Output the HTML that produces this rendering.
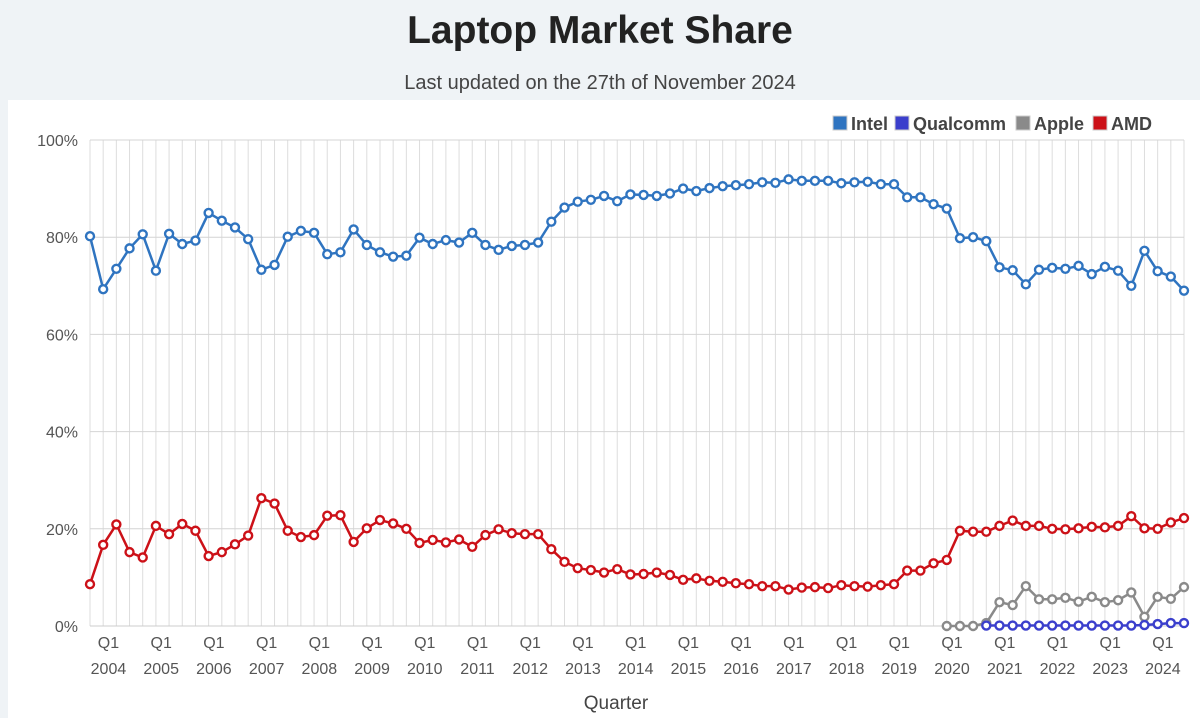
<!DOCTYPE html>
<html><head><meta charset="utf-8"><style>
html,body{margin:0;padding:0;background:#eff3f6;}
body{width:1200px;height:718px;position:relative;overflow:hidden;font-family:"Liberation Sans",sans-serif;}
#title{position:absolute;left:0;width:1200px;top:9px;text-align:center;font-size:39px;font-weight:bold;color:#222;}
#sub{position:absolute;left:0;width:1200px;top:72px;text-align:center;font-size:20px;color:#444;}
#panel{position:absolute;left:8px;top:100px;width:1192px;height:618px;background:#fff;}
svg{position:absolute;left:0;top:0;}
</style></head><body>
<div id="title">Laptop Market Share</div>
<div id="sub">Last updated on the 27th of November 2024</div>
<div id="panel"></div>
<svg id="chart" width="1200" height="718"></svg>
<script>
const startYear=2003, startQuarter=3;
const intel=[80.2,69.3,73.5,77.7,80.6,73.1,80.7,78.6,79.3,85.0,83.4,82.0,79.6,73.3,74.3,80.1,81.3,80.9,76.5,76.9,81.6,78.4,76.9,76.0,76.2,79.9,78.6,79.4,78.9,80.9,
78.4,77.4,78.2,78.4,78.9,83.2,86.1,87.3,87.7,88.5,87.4,88.8,88.7,88.5,89.0,90.0,89.5,90.1,90.5,90.7,90.9,91.3,91.2,91.9,91.6,91.6,91.6,
91.1,91.3,91.4,90.9,90.9,88.2,88.2,86.8,85.9,79.8,80.0,79.2,73.8,73.2,70.3,73.3,73.7,73.5,74.1,72.4,73.9,73.1,70.0,77.2,73.0,71.9,69.0];
const amd=[8.6,16.7,20.9,15.2,14.1,20.6,18.9,21.0,19.6,14.4,15.2,16.8,18.6,26.3,25.2,19.6,18.3,18.7,22.7,22.8,17.3,20.1,21.8,21.1,20.0,17.1,17.7,17.2,17.8,16.3,
18.7,19.9,19.1,18.9,18.9,15.8,13.2,11.9,11.5,11.0,11.7,10.6,10.7,11.0,10.5,9.5,9.8,9.3,9.1,8.8,8.6,8.2,8.2,7.5,7.9,8.0,7.8,
8.4,8.2,8.1,8.4,8.6,11.4,11.4,12.9,13.6,19.6,19.4,19.4,20.6,21.7,20.6,20.6,20.0,19.9,20.1,20.4,20.3,20.6,22.6,20.1,20.0,21.3,22.2];
const appleStart=65;
const apple=[0,0,0,0.6,4.9,4.3,8.2,5.5,5.5,5.8,5.0,6.0,4.9,5.3,6.9,1.9,6.0,5.6,8.0];
const qualcommStart=68;
const qualcomm=[0.1,0.1,0.1,0.1,0.1,0.1,0.1,0.1,0.1,0.1,0.1,0.1,0.2,0.4,0.6,0.6];
const yTicks=[0,20,40,60,80,100];
const seriesNames=["Intel","Qualcomm","Apple","AMD"];
const seriesColors=["#2f74c0","#3b3fcc","#8a8a8a","#cc1118"];

const NS="http://www.w3.org/2000/svg";
const svg=document.getElementById('chart');
const L=90,R=1184,T=140,B=626,N=intel.length;
const x=i=>L+(R-L)*i/(N-1);
const y=v=>B-(B-T)*v/100;
function el(t,a,p){const e=document.createElementNS(NS,t);for(const k in a)e.setAttribute(k,a[k]);(p||svg).appendChild(e);return e;}
const grid=el('g',{});


for(let i=0;i<N;i++){el('line',{x1:x(i),x2:x(i),y1:T,y2:B,stroke:'#ddd','stroke-width':1},grid);}
yTicks.forEach(t=>{
  el('line',{x1:L,x2:R,y1:y(t),y2:y(t),stroke:t==0?'#ccc':'#d4d4d4','stroke-width':1},grid);
  const tx=el('text',{x:78,y:y(t)+6,'text-anchor':'end','font-size':16,fill:'#555'});
  tx.textContent=t+'%';
  
  
});
for(let i=0;i<N;i++){
  const q=(startQuarter-1+i)%4, yr=startYear+Math.floor((startQuarter-1+i)/4);
  if(q===0){
    const xx=x(i)-0.6*(R-L)/(N-1);
    const a=el('text',{x:xx,y:648,'text-anchor':'middle','font-size':16,fill:'#555'});a.textContent='Q1';
    
    
    const b=el('text',{x:xx,y:674,'text-anchor':'middle','font-size':16,fill:'#555'});b.textContent=yr;
    
    
  }
}
const xt=el('text',{x:616,y:709,'text-anchor':'middle','font-size':19,fill:'#444'});xt.textContent='Quarter';


function series(vals,start,color,name){
  const g=el('g',{});
  
  
  const pts=vals.map((v,k)=>x(start+k).toFixed(1)+','+y(v).toFixed(1)).join(' ');
  el('polyline',{points:pts,fill:'none',stroke:color,'stroke-width':2.5},g);
  vals.forEach((v,k)=>{const c=el('circle',{cx:x(start+k),cy:y(v),r:4,fill:'#fff',stroke:color,'stroke-width':2.4},g);
    
    });
}
series(amd,0,seriesColors[3],'amd');
series(apple,appleStart,seriesColors[2],'apple');
series(qualcomm,qualcommStart,seriesColors[1],'qualcomm');
series(intel,0,seriesColors[0],'intel');
// legend
const lg=el('g',{});


const lx=[833,895,1016,1093];
seriesNames.forEach((n,k)=>{
  const e=el('g',{},lg);
  
  
  el('rect',{x:lx[k],y:116,width:14,height:14,fill:seriesColors[k],stroke:'#ccc','stroke-width':1},e);
  const t=el('text',{x:lx[k]+18,y:130,'font-size':18,'font-weight':'bold',fill:'#444'},e);t.textContent=n;
});
</script>
</body></html>
